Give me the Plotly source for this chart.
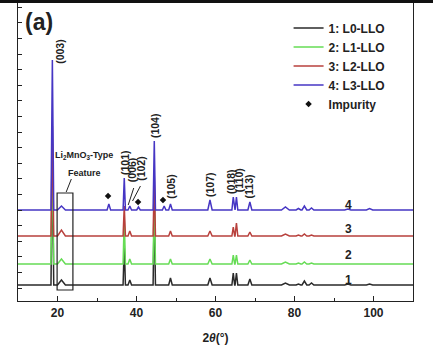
import plotly.graph_objects as go

# ---- data (2theta in degrees, intensity in a.u.) ----
peak_pos = [18.7, 21.0, 33.0, 36.9, 38.3, 40.5, 44.5, 47.0, 48.6, 58.6, 64.5, 65.3, 68.7, 77.7, 81.0, 82.5, 84.3, 93.5, 99.0]
peak_hw  = [0.35, 1.0, 0.45, 0.3, 0.45, 0.45, 0.3, 0.45, 0.45, 0.55, 0.35, 0.35, 0.5, 1.0, 0.6, 0.6, 0.6, 0.8, 0.8]
I_L0 = [130, 5, 0, 40, 5, 0, 80, 0, 7, 7, 12, 12, 6, 2, 1, 4, 2, 1, 1]
I_L1 = [120, 5, 0, 45, 5, 0, 75, 0, 5, 5, 9, 9, 4, 2, 1, 2, 1, 0.5, 0.5]
I_L2 = [110, 6, 0, 30, 5, 0, 60, 0, 5, 5, 9, 13, 4, 2, 1, 2, 1, 0.5, 0.5]
I_L3 = [150, 4, 6, 32, 4, 3, 69, 4, 6, 10, 13, 13, 8, 3, 1.5, 4, 2, 1, 1.5]
offsets = [16, 37, 65, 91]
names = ["1: L0-LLO", "2: L1-LLO", "3: L2-LLO", "4: L3-LLO"]
colors = ["#2a2a2a", "#66dc55", "#b8403c", "#4636c4"]
series_labels = ["1", "2", "3", "4"]
label_y = [21, 46, 72, 96]

imp_x = [32.8, 40.4, 46.7]
imp_y = [105, 99, 101]

hkl_text = ["(003)", "(101)", "(006)", "(102)", "(104)", "(105)", "(107)", "(018)", "(110)", "(113)"]
hkl_x    = [20.6, 37.1, 38.9, 41.1, 44.7, 48.7, 58.6, 63.9, 66.0, 68.6]
hkl_y    = [250, 138, 131, 133, 175, 115, 117, 120, 121, 115]


def profile(pos, hw, inten, base):
    xs, ys = [10], [base]
    for c, w, h in sorted(zip(pos, hw, inten)):
        if h <= 0:
            continue
        xs += [c - w, c, c + w]
        ys += [base, base + h, base]
    xs.append(110)
    ys.append(base)
    return xs, ys


fig = go.Figure()
for I, off, nm, col in zip([I_L0, I_L1, I_L2, I_L3], offsets, names, colors):
    xs, ys = profile(peak_pos, peak_hw, I, off)
    fig.add_trace(go.Scatter(x=xs, y=ys, mode="lines", name=nm,
                             line=dict(color=col, width=1.5)))
fig.add_trace(go.Scatter(x=imp_x, y=imp_y, mode="markers", name="Impurity",
                         marker=dict(symbol="diamond", size=5, color="#111")))

font_b = dict(family="Arial, Liberation Sans, sans-serif", color="#222", weight="bold")

ann = []
ann.append(dict(x=0.012, y=0.985, xref="paper", yref="paper", text="(a)", showarrow=False,
                xanchor="left", yanchor="top", font=dict(font_b, size=23)))
for t, x, y in zip(hkl_text, hkl_x, hkl_y):
    ann.append(dict(x=x, y=y, text=t, textangle=-90, showarrow=False,
                    xanchor="center", yanchor="middle", font=dict(font_b, size=10.5)))
for t, y in zip(series_labels, label_y):
    ann.append(dict(x=93.6, y=y, text=t, showarrow=False, font=dict(font_b, size=12)))
ann.append(dict(x=26.8, y=146, text="Li<sub>2</sub>MnO<sub>3</sub>-Type", showarrow=False,
                font=dict(font_b, size=9)))
ann.append(dict(x=26.8, y=128, text="Feature", showarrow=False, font=dict(font_b, size=9)))

line_style = dict(color="#222", width=1)
shapes = [
    dict(type="rect", xref="x", yref="y", x0=19.9, x1=23.9, y0=11, y1=108,
         line=dict(color="#222", width=1.2)),
    dict(type="line", xref="x", yref="y", x0=23.5, y0=122, x1=22.2, y1=109, line=line_style),
    dict(type="line", xref="x", yref="y", x0=39.3, y0=113, x1=37.9, y1=96, line=line_style),
    dict(type="line", xref="x", yref="y", x0=41.0, y0=115, x1=39.0, y1=100, line=line_style),
    dict(type="rect", xref="paper", yref="paper", x0=-0.1, x1=1.1, y0=1.0, y1=1.012,
         fillcolor="#111", line=dict(width=0)),
]

fig.update_layout(
    width=433, height=351,
    margin=dict(l=18, r=20, t=3, b=50),
    paper_bgcolor="white", plot_bgcolor="white",
    showlegend=True,
    legend=dict(x=0.685, y=0.965, xanchor="left", yanchor="top", bgcolor="rgba(0,0,0,0)",
                font=dict(font_b, size=12), itemwidth=30, tracegroupgap=0),
    annotations=ann, shapes=shapes,
    xaxis=dict(range=[10, 110], tickvals=[20, 40, 60, 80, 100], ticks="inside", ticklen=5,
               tickcolor="#222", minor=dict(tickvals=[30, 50, 70, 90], ticks="inside", ticklen=3, tickcolor="#222"),
               showline=True, mirror=True, linecolor="#222", linewidth=1.3, showgrid=False, zeroline=False,
               tickfont=dict(font_b, size=12),
               title=dict(text="2<i>θ</i>(°)", font=dict(font_b, size=12), standoff=15)),
    yaxis=dict(range=[0, 298], showticklabels=False, ticks="inside", tick0=13, dtick=15.6, ticklen=4,
               tickcolor="#222", showline=True, mirror=True, linecolor="#222", linewidth=1.3,
               showgrid=False, zeroline=False),
)

fig.write_html("out.html")
